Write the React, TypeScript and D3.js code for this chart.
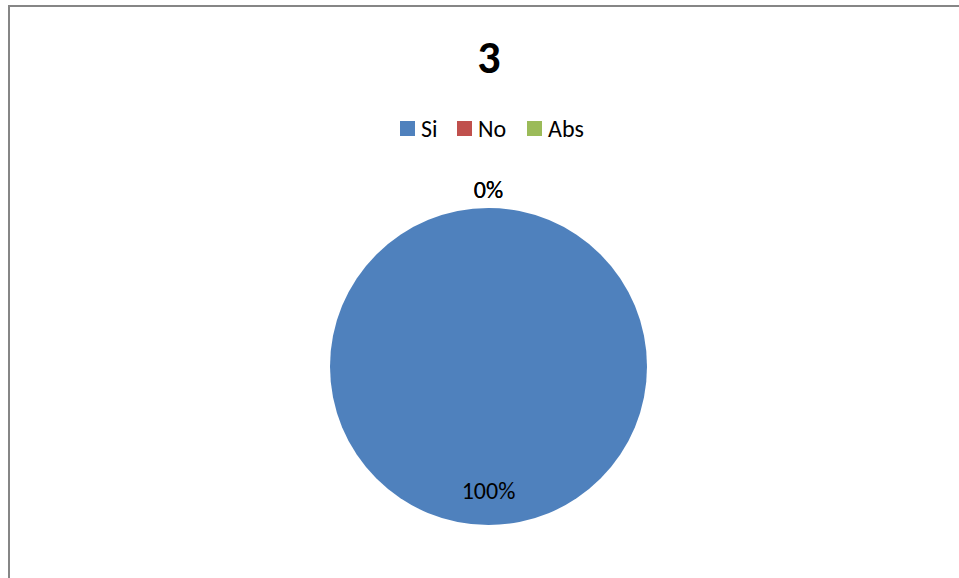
import React, { useEffect, useRef } from 'react';
import * as d3 from 'd3';

const title = '3';
const categories = ['Si', 'No', 'Abs'];
const values = [100, 0, 0];
const colors = ['#4F81BD', '#C0504D', '#9BBB59'];

const FONT = 'Carlito, Lato, sans-serif';

const App: React.FC = () => {
  const ref = useRef<SVGSVGElement>(null);

  useEffect(() => {
    if (!ref.current) return;
    const width = 959;
    const height = 578;
    const cx = 488.5;
    const cy = 366.5;
    const radius = 158.5;

    const svg = d3.select(ref.current);
    svg.selectAll('*').remove();

    svg
      .append('rect')
      .attr('width', width)
      .attr('height', height)
      .attr('fill', '#ffffff');

    // chart frame (runs off the right and bottom edge)
    svg
      .append('path')
      .attr('d', `M9,${height + 5} L9,6 L${width + 5},6`)
      .attr('fill', 'none')
      .attr('stroke', '#868686')
      .attr('stroke-width', 2);

    svg
      .append('text')
      .attr('x', 489)
      .attr('y', 73)
      .attr('text-anchor', 'middle')
      .attr('font-family', FONT)
      .attr('font-weight', 'bold')
      .attr('font-size', 46)
      .attr('fill', '#000')
      .text(title);

    // legend
    const legendX = [400, 457, 527];
    const legend = svg
      .selectAll('g.legend')
      .data(categories)
      .enter()
      .append('g')
      .attr('class', 'legend')
      .attr('transform', (_d, i) => `translate(${legendX[i]},121)`);
    legend
      .append('rect')
      .attr('width', 15)
      .attr('height', 15)
      .attr('fill', (_d, i) => colors[i]);
    legend
      .append('text')
      .attr('x', 21)
      .attr('y', 16)
      .attr('font-family', FONT)
      .attr('font-size', 24)
      .attr('fill', '#000')
      .text((d) => d);

    const pieData = categories.map((c, i) => ({ category: c, value: values[i], color: colors[i] }));
    type D = (typeof pieData)[number];
    const pie = d3
      .pie<D>()
      .sort(null)
      .value((d) => d.value);
    const arcs = pie(pieData);

    const arc = d3.arc<d3.PieArcDatum<D>>().innerRadius(0).outerRadius(radius);
    const insideArc = d3
      .arc<d3.PieArcDatum<D>>()
      .innerRadius(radius * 0.78)
      .outerRadius(radius * 0.78);
    const outsideArc = d3
      .arc<d3.PieArcDatum<D>>()
      .innerRadius(radius + 19)
      .outerRadius(radius + 19);

    const g = svg.append('g').attr('transform', `translate(${cx},${cy})`);
    g.selectAll('path')
      .data(arcs)
      .enter()
      .append('path')
      .attr('d', arc)
      .attr('fill', (d) => d.data.color);

    const total = d3.sum(values);
    g.selectAll('text')
      .data(arcs)
      .enter()
      .append('text')
      .attr('transform', (d) =>
        `translate(${d.value > 0 ? insideArc.centroid(d) : outsideArc.centroid(d)})`
      )
      .attr('text-anchor', 'middle')
      .attr('dominant-baseline', 'central')
      .attr('font-family', FONT)
      .attr('font-size', 24)
      .attr('fill', '#000')
      .text((d) => `${Math.round((d.value / total) * 100)}%`);
  }, []);

  return <svg ref={ref} width={959} height={578} style={{ position: 'absolute', left: 0, top: 0 }} />;
};

export default App;
